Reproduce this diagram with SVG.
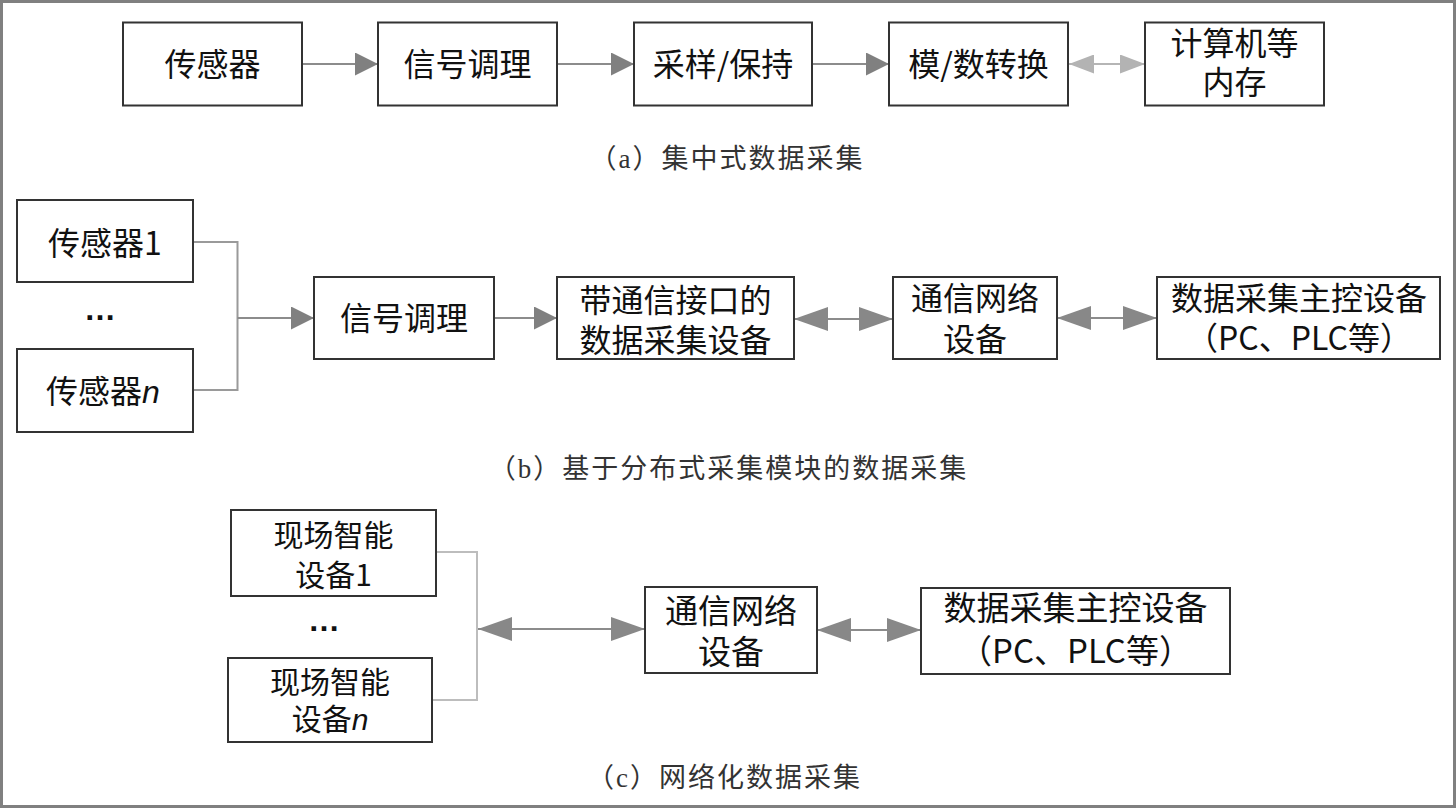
<svg xmlns="http://www.w3.org/2000/svg" width="1456" height="808" viewBox="0 0 1456 808">
<style>
.box{fill:#fff;stroke:#333;stroke-width:2}
.t{font-family:"Noto Sans CJK SC","Liberation Sans",sans-serif;font-size:32px;fill:#111;text-anchor:middle}
.t30{font-size:30px}
.t33{font-size:33px}
.it{font-family:"Liberation Sans",sans-serif;font-style:italic}
.dots{font-family:"Liberation Sans",sans-serif;font-weight:bold;font-size:32px;fill:#111;text-anchor:middle}
.cap{font-family:"Liberation Serif","Noto Sans CJK SC",serif;font-size:27px;fill:#333;text-anchor:middle;letter-spacing:2px}
.ln{stroke:#8c8c8c;stroke-width:2;fill:none}
.lnl{stroke:#b5b5b5;stroke-width:2;fill:none}
.br{stroke:#9a9a9a;stroke-width:2;fill:none}
.brl{stroke:#bdbdbd;stroke-width:2;fill:none}
</style>
<defs>
<marker id="ah" viewBox="0 0 23 23" markerWidth="23" markerHeight="23" refX="23" refY="11.5" orient="auto-start-reverse" markerUnits="userSpaceOnUse"><path d="M0,0L23,11.5L0,23z" fill="#808080"/></marker>
<marker id="dh" viewBox="0 0 34 24" markerWidth="34" markerHeight="24" refX="34" refY="12" orient="auto-start-reverse" markerUnits="userSpaceOnUse"><path d="M0,0L34,12L0,24z" fill="#888"/></marker>
<marker id="lh" viewBox="0 0 25 19" markerWidth="25" markerHeight="19" refX="25" refY="9.5" orient="auto-start-reverse" markerUnits="userSpaceOnUse"><path d="M0,0L25,9.5L0,19z" fill="#b3b3b3"/></marker>
</defs>
<rect x="0" y="0" width="1456" height="808" fill="#808080"/>
<rect x="3" y="3" width="1450" height="802" fill="#fff"/>

<g id="connectors">
<line class="ln" x1="302" y1="64" x2="378" y2="64" marker-end="url(#ah)"/>
<line class="ln" x1="557" y1="64" x2="634" y2="64" marker-end="url(#ah)"/>
<line class="ln" x1="812" y1="64" x2="889" y2="64" marker-end="url(#ah)"/>
<line class="lnl" x1="1069" y1="64" x2="1145" y2="64" marker-start="url(#lh)" marker-end="url(#lh)"/>
<path class="br" d="M193,242H237.5V390H193"/>
<line class="ln" x1="237.5" y1="318" x2="314" y2="318" marker-end="url(#ah)"/>
<line class="ln" x1="494" y1="318" x2="557" y2="318" marker-end="url(#ah)"/>
<line class="ln" x1="794" y1="319" x2="893" y2="319" marker-start="url(#dh)" marker-end="url(#dh)"/>
<line class="ln" x1="1057" y1="318" x2="1157" y2="318" marker-start="url(#dh)" marker-end="url(#dh)"/>
<path class="brl" d="M436,552H477V700H432"/>
<line class="ln" x1="478" y1="629" x2="645" y2="629" marker-start="url(#dh)" marker-end="url(#dh)"/>
<line class="ln" x1="817" y1="630" x2="921" y2="630" marker-start="url(#dh)" marker-end="url(#dh)"/>
</g>

<g id="a-sensor"><rect class="box" x="123" y="22.5" width="179" height="83"/><text class="t" x="212.5" y="76">传感器</text></g>
<g id="a-signal"><rect class="box" x="378" y="22.5" width="179" height="83"/><text class="t" x="467.5" y="76">信号调理</text></g>
<g id="a-sample"><rect class="box" x="634" y="22.5" width="178" height="83"/><text class="t" x="723" y="76">采样/保持</text></g>
<g id="a-adc"><rect class="box" x="889" y="22.5" width="179" height="83"/><text class="t" x="978.5" y="76">模/数转换</text></g>
<g id="a-computer"><rect class="box" x="1145" y="22.5" width="179" height="83"/><text class="t" x="1234.5" y="55">计算机等</text><text class="t" x="1234.5" y="94">内存</text></g>
<text id="cap-a" class="cap" x="727" y="168">（a）集中式数据采集</text>

<g id="b-sensor1"><rect class="box" x="17" y="200" width="176" height="82"/><text class="t" x="105" y="254.5">传感器1</text></g>
<text id="b-dots" class="dots" x="100" y="320">…</text>
<g id="b-sensorn"><rect class="box" x="17" y="349" width="176" height="83"/><text class="t" x="103" y="402.5">传感器<tspan class="it">n</tspan></text></g>
<g id="b-signal"><rect class="box" x="314" y="277" width="180" height="82"/><text class="t" x="404" y="330">信号调理</text></g>
<g id="b-daq"><rect class="box" x="557" y="277" width="237" height="82"/><text class="t" x="675.5" y="312">带通信接口的</text><text class="t" x="675.5" y="352">数据采集设备</text></g>
<g id="b-net"><rect class="box" x="893" y="277" width="164" height="82"/><text class="t" x="975" y="310">通信网络</text><text class="t" x="975" y="351">设备</text></g>
<g id="b-master"><rect class="box" x="1157" y="277" width="283" height="82"/><text class="t" x="1299" y="310">数据采集主控设备</text><text class="t" x="1299" y="350">（PC、PLC等）</text></g>
<text id="cap-b" class="cap" x="728.5" y="478">（b）基于分布式采集模块的数据采集</text>

<g id="c-dev1"><rect class="box" x="231" y="510" width="205" height="86"/><text class="t t30" x="333.5" y="546">现场智能</text><text class="t t30" x="333.5" y="586">设备1</text></g>
<text id="c-dots" class="dots" x="324" y="631">…</text>
<g id="c-devn"><rect class="box" x="228" y="658" width="204" height="84"/><text class="t t30" x="330" y="693">现场智能</text><text class="t t30" x="330" y="730">设备<tspan class="it">n</tspan></text></g>
<g id="c-net"><rect class="box" x="645" y="587" width="172" height="86"/><text class="t t33" x="731" y="623">通信网络</text><text class="t t33" x="731" y="663.5">设备</text></g>
<g id="c-master"><rect class="box" x="921" y="588" width="309" height="86"/><text class="t t33" x="1075.5" y="620">数据采集主控设备</text><text class="t t33" x="1075.5" y="662.5">（PC、PLC等）</text></g>
<text id="cap-c" class="cap" x="724.5" y="787">（c）网络化数据采集</text>
</svg>
